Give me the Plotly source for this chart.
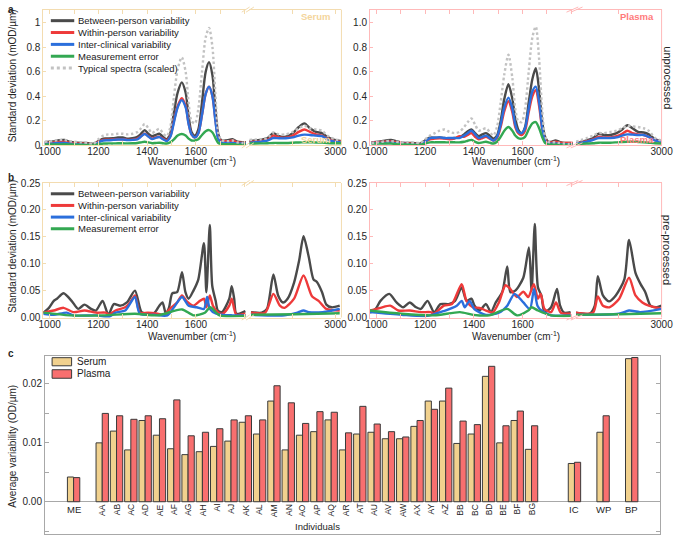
import plotly.graph_objects as go

W, H = 685, 541
FONT = "Liberation Sans, Arial, Helvetica, sans-serif"

# ---------------- colours ----------------
C_BETWEEN = "#4A4A4A"
C_WITHIN = "#EE3A3A"
C_CLINIC = "#2B6FDC"
C_MEAS = "#33A852"
C_TYP = "#C2C2C2"
SER_FRAME = "#F3DCB0"
SER_TEXT = "#F4D59C"
PLA_FRAME = "#FFB9B9"
PLA_TEXT = "#FF7B7B"
C_SER_BAR = "#F1D18E"
C_PLA_BAR = "#F86F6F"
C_C_FRAME = "#A8A8A8"
TXT = "#262626"

# ---------------- data: panel a (unprocessed) ----------------
wn_a = [980, 1010, 1040, 1060, 1080, 1100, 1130, 1160, 1180, 1200, 1220, 1240, 1260, 1280, 1300, 1320,
        1340, 1360, 1375, 1390, 1405, 1420, 1435, 1450, 1465, 1480, 1495, 1510, 1525, 1542, 1558, 1570,
        1582, 1596, 1610, 1625, 1640, 1654, 1668, 1680, 1692, 1705, 1720, 1735, 1750, 1770, 1790, 1805]
wn_a_hi_ser = [2800, 2826, 2842, 2856, 2869, 2885, 2901, 2915, 2928, 2941, 2955, 2969, 2981, 2998, 3014]
wn_a_hi_pla = [2800, 2825, 2840, 2853, 2865, 2880, 2895, 2908, 2920, 2932, 2945, 2958, 2970, 2985, 3000]

a_ser_between = [0.027, 0.032, 0.042, 0.045, 0.030, 0.024, 0.020, 0.018, 0.013, 0.035, 0.055, 0.056, 0.058, 0.064, 0.065, 0.055,
                 0.058, 0.070, 0.095, 0.125, 0.095, 0.075, 0.085, 0.095, 0.070, 0.050, 0.100, 0.270, 0.430, 0.515, 0.430, 0.240,
                 0.110, 0.080, 0.130, 0.350, 0.600, 0.680, 0.570, 0.300, 0.090, 0.040, 0.040, 0.045, 0.050, 0.030, 0.025, 0.025]
a_ser_within = [0.020, 0.022, 0.028, 0.030, 0.022, 0.018, 0.015, 0.012, 0.010, 0.030, 0.045, 0.046, 0.048, 0.050, 0.050, 0.045,
                0.047, 0.055, 0.075, 0.095, 0.075, 0.055, 0.065, 0.070, 0.055, 0.040, 0.075, 0.200, 0.320, 0.385, 0.320, 0.180,
                0.090, 0.065, 0.100, 0.250, 0.420, 0.480, 0.400, 0.210, 0.060, 0.035, 0.035, 0.035, 0.040, 0.025, 0.020, 0.020]
a_ser_clinic = [0.015, 0.016, 0.020, 0.020, 0.015, 0.012, 0.008, 0.006, 0.005, 0.025, 0.040, 0.042, 0.045, 0.048, 0.048, 0.043,
                0.045, 0.050, 0.072, 0.093, 0.072, 0.052, 0.062, 0.068, 0.050, 0.035, 0.070, 0.190, 0.310, 0.370, 0.310, 0.175,
                0.090, 0.065, 0.100, 0.250, 0.420, 0.480, 0.400, 0.200, 0.050, 0.025, 0.020, 0.020, 0.020, 0.015, 0.015, 0.015]
a_ser_meas = [0.008, 0.008, 0.008, 0.009, 0.008, 0.007, 0.006, 0.005, 0.005, 0.010, 0.015, 0.016, 0.016, 0.017, 0.017, 0.016,
              0.017, 0.020, 0.025, 0.030, 0.024, 0.018, 0.020, 0.022, 0.018, 0.015, 0.025, 0.050, 0.080, 0.093, 0.080, 0.055,
              0.040, 0.040, 0.050, 0.085, 0.115, 0.125, 0.105, 0.060, 0.020, 0.012, 0.010, 0.010, 0.010, 0.008, 0.008, 0.008]
a_ser_typical = [0.030, 0.035, 0.045, 0.045, 0.035, 0.030, 0.025, 0.020, 0.012, 0.050, 0.080, 0.090, 0.090, 0.095, 0.095, 0.090,
                 0.095, 0.110, 0.140, 0.175, 0.140, 0.100, 0.120, 0.135, 0.100, 0.075, 0.150, 0.400, 0.620, 0.720, 0.600, 0.350,
                 0.200, 0.180, 0.300, 0.600, 0.880, 0.960, 0.800, 0.420, 0.100, 0.040, 0.035, 0.035, 0.040, 0.025, 0.020, 0.020]
a_ser_between_hi = [0.035, 0.045, 0.060, 0.100, 0.075, 0.072, 0.100, 0.150, 0.180, 0.140, 0.110, 0.100, 0.070, 0.045, 0.035]
a_ser_within_hi = [0.028, 0.035, 0.045, 0.080, 0.065, 0.062, 0.080, 0.110, 0.130, 0.110, 0.090, 0.080, 0.055, 0.035, 0.030]
a_ser_clinic_hi = [0.020, 0.030, 0.040, 0.060, 0.058, 0.058, 0.065, 0.080, 0.088, 0.085, 0.080, 0.075, 0.050, 0.030, 0.025]
a_ser_meas_hi = [0.015, 0.016, 0.018, 0.020, 0.020, 0.020, 0.022, 0.024, 0.025, 0.025, 0.024, 0.023, 0.020, 0.018, 0.018]
a_ser_typical_hi = [0.045, 0.050, 0.060, 0.105, 0.090, 0.090, 0.110, 0.140, 0.160, 0.140, 0.130, 0.120, 0.080, 0.050, 0.040]

a_pla_between = [0.025, 0.030, 0.040, 0.045, 0.035, 0.025, 0.020, 0.018, 0.015, 0.040, 0.065, 0.062, 0.065, 0.060, 0.055, 0.060,
                 0.065, 0.090, 0.115, 0.130, 0.100, 0.075, 0.090, 0.100, 0.080, 0.055, 0.080, 0.200, 0.380, 0.500, 0.380, 0.220,
                 0.130, 0.100, 0.150, 0.350, 0.540, 0.630, 0.450, 0.200, 0.070, 0.030, 0.030, 0.040, 0.030, 0.020, 0.020, 0.020]
a_pla_within = [0.025, 0.027, 0.030, 0.032, 0.027, 0.020, 0.015, 0.012, 0.010, 0.030, 0.050, 0.055, 0.058, 0.055, 0.050, 0.055,
                0.075, 0.070, 0.085, 0.100, 0.070, 0.050, 0.060, 0.070, 0.055, 0.040, 0.060, 0.150, 0.280, 0.360, 0.270, 0.150,
                0.100, 0.085, 0.120, 0.270, 0.400, 0.450, 0.320, 0.140, 0.050, 0.025, 0.025, 0.030, 0.025, 0.020, 0.020, 0.020]
a_pla_clinic = [0.020, 0.020, 0.020, 0.022, 0.018, 0.015, 0.010, 0.007, 0.005, 0.030, 0.060, 0.062, 0.065, 0.060, 0.060, 0.060,
                0.060, 0.080, 0.100, 0.120, 0.090, 0.060, 0.070, 0.080, 0.060, 0.040, 0.070, 0.170, 0.310, 0.390, 0.300, 0.170,
                0.110, 0.100, 0.140, 0.300, 0.440, 0.480, 0.350, 0.150, 0.040, 0.015, 0.015, 0.015, 0.012, 0.010, 0.010, 0.010]
a_pla_meas = [0.015, 0.015, 0.015, 0.015, 0.012, 0.010, 0.008, 0.006, 0.005, 0.015, 0.025, 0.025, 0.026, 0.025, 0.025, 0.025,
              0.025, 0.030, 0.038, 0.045, 0.030, 0.020, 0.025, 0.030, 0.022, 0.015, 0.030, 0.070, 0.120, 0.150, 0.120, 0.080,
              0.060, 0.055, 0.070, 0.130, 0.180, 0.190, 0.140, 0.070, 0.020, 0.008, 0.008, 0.008, 0.006, 0.005, 0.005, 0.005]
a_pla_typical = [0.020, 0.025, 0.035, 0.035, 0.030, 0.025, 0.025, 0.022, 0.020, 0.050, 0.080, 0.100, 0.120, 0.130, 0.110, 0.100,
                 0.110, 0.150, 0.190, 0.220, 0.170, 0.120, 0.130, 0.140, 0.110, 0.080, 0.150, 0.350, 0.580, 0.740, 0.550, 0.300,
                 0.200, 0.190, 0.300, 0.600, 0.880, 0.970, 0.700, 0.300, 0.080, 0.030, 0.025, 0.025, 0.020, 0.015, 0.012, 0.010]
a_pla_between_hi = [0.020, 0.040, 0.060, 0.095, 0.085, 0.085, 0.100, 0.130, 0.165, 0.140, 0.110, 0.105, 0.090, 0.050, 0.035]
a_pla_within_hi = [0.020, 0.035, 0.050, 0.070, 0.065, 0.065, 0.075, 0.095, 0.120, 0.100, 0.090, 0.085, 0.070, 0.040, 0.030]
a_pla_clinic_hi = [0.015, 0.030, 0.045, 0.060, 0.060, 0.060, 0.065, 0.080, 0.090, 0.088, 0.085, 0.085, 0.070, 0.040, 0.030]
a_pla_meas_hi = [0.010, 0.015, 0.018, 0.022, 0.022, 0.022, 0.025, 0.028, 0.030, 0.030, 0.028, 0.026, 0.022, 0.017, 0.015]
a_pla_typical_hi = [0.030, 0.060, 0.080, 0.100, 0.100, 0.110, 0.120, 0.140, 0.160, 0.155, 0.150, 0.140, 0.120, 0.060, 0.040]

# ---------------- data: panel b (pre-processed) ----------------
b_ser_between_wn = [974, 997, 1017, 1030, 1057, 1090, 1117, 1143, 1170, 1190, 1217, 1241, 1263, 1290, 1317, 1350, 1377, 1403,
                    1430, 1450, 1463, 1477, 1490, 1503, 1523, 1543, 1557, 1570, 1590, 1610, 1633, 1643, 1657, 1667, 1681,
                    1690, 1707, 1737, 1747, 1757, 1766, 1803,
                    2804, 2829, 2841, 2856, 2867, 2878, 2889, 2904, 2916, 2926, 2938, 2949, 2957, 2969, 2979, 2991, 3010]
b_ser_between_sd = [0.009, 0.018, 0.031, 0.035, 0.045, 0.031, 0.016, 0.024, 0.016, 0.013, 0.031, 0.005, 0.025, 0.022, 0.028,
                    0.050, 0.010, 0.007, 0.009, 0.022, 0.028, 0.007, 0.019, 0.045, 0.047, 0.084, 0.047, 0.035, 0.050, 0.071,
                    0.138, 0.047, 0.172, 0.059, 0.031, 0.013, 0.010, 0.035, 0.058, 0.035, 0.007, 0.012,
                    0.010, 0.009, 0.016, 0.080, 0.041, 0.028, 0.035, 0.065, 0.107, 0.151, 0.113, 0.071, 0.066, 0.047, 0.024,
                    0.019, 0.022]
b_ser_within_wn = [974, 1017, 1057, 1097, 1143, 1190, 1230, 1243, 1270, 1310, 1330, 1350, 1370, 1403, 1443, 1470, 1497, 1523,
                   1543, 1563, 1590, 1617, 1633, 1643, 1657, 1670, 1690, 1710, 1737, 1747, 1757, 1766, 1803,
                   2804, 2837, 2856, 2871, 2882, 2904, 2926, 2946, 2961, 2979, 3010]
b_ser_within_sd = [0.009, 0.013, 0.018, 0.010, 0.013, 0.009, 0.009, 0.005, 0.013, 0.019, 0.028, 0.041, 0.009, 0.009, 0.007,
                   0.005, 0.018, 0.028, 0.041, 0.030, 0.022, 0.031, 0.035, 0.019, 0.041, 0.022, 0.010, 0.007, 0.022, 0.035,
                   0.016, 0.005, 0.007,
                   0.009, 0.009, 0.044, 0.022, 0.018, 0.035, 0.078, 0.039, 0.031, 0.016, 0.013]
b_ser_clinic_wn = [974, 1017, 1070, 1097, 1190, 1243, 1270, 1310, 1350, 1370, 1430, 1483, 1510, 1543, 1570, 1603, 1633, 1646,
                   1657, 1683, 1750, 1803,
                   2804, 2882, 2912, 2926, 2938, 2971, 2992, 3010]
b_ser_clinic_sd = [0.007, 0.005, 0.009, 0.004, 0.004, 0.001, 0.009, 0.013, 0.038, 0.007, 0.005, 0.004, 0.019, 0.038, 0.022,
                   0.019, 0.016, 0.038, 0.016, 0.007, 0.004, 0.004,
                   0.005, 0.004, 0.009, 0.013, 0.010, 0.010, 0.013, 0.016]
b_ser_meas_wn = [974, 1083, 1217, 1350, 1443, 1543, 1590, 1637, 1659, 1697, 1803, 2804, 2906, 3010]
b_ser_meas_sd = [0.009, 0.004, 0.004, 0.007, 0.004, 0.015, 0.004, 0.009, 0.019, 0.004, 0.003, 0.005, 0.006, 0.008]

b_pla_between_wn = [974, 997, 1017, 1053, 1083, 1110, 1137, 1163, 1183, 1210, 1237, 1263, 1297, 1323, 1350, 1370, 1390, 1403,
                    1423, 1450, 1470, 1490, 1517, 1537, 1550, 1570, 1603, 1626, 1637, 1650, 1663, 1677, 1690, 1717, 1741,
                    1754, 1770, 1797,
                    2800, 2832, 2844, 2851, 2863, 2877, 2893, 2913, 2924, 2939, 2951, 2962, 2974, 2989, 3000]
b_pla_between_sd = [0.009, 0.016, 0.031, 0.044, 0.028, 0.019, 0.028, 0.019, 0.016, 0.031, 0.010, 0.025, 0.025, 0.031, 0.056,
                    0.031, 0.035, 0.022, 0.013, 0.025, 0.010, 0.028, 0.048, 0.095, 0.047, 0.050, 0.074, 0.130, 0.050, 0.174,
                    0.056, 0.041, 0.010, 0.019, 0.053, 0.022, 0.009, 0.010,
                    0.009, 0.007, 0.022, 0.077, 0.041, 0.030, 0.041, 0.071, 0.144, 0.083, 0.062, 0.047, 0.022, 0.019, 0.022]
b_pla_within_wn = [974, 1017, 1057, 1090, 1137, 1183, 1223, 1237, 1277, 1310, 1350, 1370, 1397, 1423, 1450, 1477, 1503, 1530,
                   1550, 1577, 1603, 1623, 1646, 1663, 1674, 1690, 1717, 1737, 1757, 1797,
                   2800, 2840, 2851, 2863, 2878, 2901, 2924, 2939, 2955, 2970, 3000]
b_pla_within_sd = [0.013, 0.018, 0.022, 0.013, 0.013, 0.010, 0.010, 0.007, 0.022, 0.025, 0.062, 0.031, 0.019, 0.018, 0.013,
                   0.009, 0.028, 0.060, 0.053, 0.038, 0.048, 0.038, 0.062, 0.035, 0.044, 0.016, 0.010, 0.028, 0.009, 0.007,
                   0.009, 0.009, 0.039, 0.022, 0.019, 0.035, 0.074, 0.041, 0.028, 0.022, 0.016]
b_pla_clinic_wn = [974, 1103, 1210, 1277, 1330, 1350, 1363, 1383, 1403, 1450, 1503, 1537, 1567, 1603, 1630, 1647, 1661, 1677,
                   1717, 1797,
                   2800, 2900, 2924, 2950, 3000]
b_pla_clinic_sd = [0.010, 0.005, 0.003, 0.012, 0.022, 0.031, 0.019, 0.031, 0.015, 0.005, 0.009, 0.022, 0.044, 0.028, 0.016,
                   0.053, 0.022, 0.013, 0.004, 0.004,
                   0.005, 0.007, 0.013, 0.010, 0.016]
b_pla_meas_wn = [974, 1103, 1237, 1343, 1397, 1463, 1537, 1577, 1623, 1637, 1663, 1717, 1797, 2800, 2900, 3000]
b_pla_meas_sd = [0.013, 0.007, 0.004, 0.010, 0.005, 0.004, 0.016, 0.004, 0.013, 0.019, 0.013, 0.004, 0.003, 0.005, 0.006, 0.008]

# ---------------- data: panel c ----------------
individuals = ["AA", "AB", "AC", "AD", "AE", "AF", "AG", "AH", "AI", "AJ", "AK", "AL", "AM", "AN", "AO", "AP",
               "AQ", "AR", "AT", "AU", "AV", "AW", "AX", "AY", "AZ", "BB", "BC", "BD", "BE", "BF", "BG"]
serum_ind = [0.0100, 0.0120, 0.0088, 0.0138, 0.0113, 0.0090, 0.0080, 0.0085, 0.0094, 0.0103, 0.0135, 0.0115, 0.0171,
             0.0088, 0.0113, 0.0119, 0.0139, 0.0088, 0.0115, 0.0118, 0.0107, 0.0107, 0.0128, 0.0171, 0.0171, 0.0099,
             0.0115, 0.0213, 0.0100, 0.0138, 0.0089]
plasma_ind = [0.0150, 0.0146, 0.0140, 0.0146, 0.0141, 0.0173, 0.0112, 0.0118, 0.0124, 0.0139, 0.0146, 0.0139, 0.0197,
              0.0168, 0.0133, 0.0153, 0.0152, 0.0117, 0.0162, 0.0132, 0.0119, 0.0110, 0.0138, 0.0157, 0.0193, 0.0137,
              0.0131, 0.0230, 0.0129, 0.0154, 0.0129]
me_label, me_serum, me_plasma = "ME", 0.0042, 0.0041
summary_labels = ["IC", "WP", "BP"]
summary_serum = [0.0065, 0.0118, 0.0243]
summary_plasma = [0.0067, 0.0146, 0.0245]

curve_names = ["Between-person variability", "Within-person variability", "Inter-clinical variability",
               "Measurement error", "Typical spectra (scaled)"]

# ---------------- helpers ----------------
def dx(a, b):
    return [a / W, b / W]


def dy(top, bottom):
    return [1 - bottom / H, 1 - top / H]


def px(x):
    return x / W


def py(y):
    return 1 - y / H


fig = go.Figure()


def add_line(wn, sd, color, xa, ya, dash="solid", width=2.4, smooth=0.8):
    fig.add_trace(go.Scatter(x=wn, y=sd, mode="lines", xaxis=xa, yaxis=ya, showlegend=False, hoverinfo="skip",
                             line=dict(color=color, width=width, dash=dash, shape="spline", smoothing=smooth)))


def add_split(wn, sd, color, xlo, xhi, ya, smooth=0.7):
    lo = [(w, s) for w, s in zip(wn, sd) if w < 2000]
    hi = [(w, s) for w, s in zip(wn, sd) if w >= 2000]
    add_line([p[0] for p in lo], [p[1] for p in lo], color, xlo, ya, smooth=smooth)
    add_line([p[0] for p in hi], [p[1] for p in hi], color, xhi, ya, smooth=smooth)


DOT = "2.5px,2.5px"
for lo, hi, col, dash in [(a_ser_between, a_ser_between_hi, C_BETWEEN, "solid"),
                          (a_ser_within, a_ser_within_hi, C_WITHIN, "solid"),
                          (a_ser_clinic, a_ser_clinic_hi, C_CLINIC, "solid"),
                          (a_ser_meas, a_ser_meas_hi, C_MEAS, "solid"),
                          (a_ser_typical, a_ser_typical_hi, C_TYP, DOT)]:
    add_line(wn_a, lo, col, "x", "y", dash)
    add_line(wn_a_hi_ser, hi, col, "x2", "y", dash)
for lo, hi, col, dash in [(a_pla_between, a_pla_between_hi, C_BETWEEN, "solid"),
                          (a_pla_within, a_pla_within_hi, C_WITHIN, "solid"),
                          (a_pla_clinic, a_pla_clinic_hi, C_CLINIC, "solid"),
                          (a_pla_meas, a_pla_meas_hi, C_MEAS, "solid"),
                          (a_pla_typical, a_pla_typical_hi, C_TYP, DOT)]:
    add_line(wn_a, lo, col, "x3", "y2", dash)
    add_line(wn_a_hi_pla, hi, col, "x4", "y2", dash)
for wn, sd, col in [(b_ser_between_wn, b_ser_between_sd, C_BETWEEN), (b_ser_within_wn, b_ser_within_sd, C_WITHIN),
                    (b_ser_clinic_wn, b_ser_clinic_sd, C_CLINIC), (b_ser_meas_wn, b_ser_meas_sd, C_MEAS)]:
    add_split(wn, sd, col, "x5", "x6", "y3")
for wn, sd, col in [(b_pla_between_wn, b_pla_between_sd, C_BETWEEN), (b_pla_within_wn, b_pla_within_sd, C_WITHIN),
                    (b_pla_clinic_wn, b_pla_clinic_sd, C_CLINIC), (b_pla_meas_wn, b_pla_meas_sd, C_MEAS)]:
    add_split(wn, sd, col, "x7", "x8", "y4")

n_ind = len(individuals)
cats = [me_label] + individuals + summary_labels
pos = [0] + [2 + i for i in range(n_ind)] + [2 + n_ind + 2 + 2 * i for i in range(len(summary_labels))]
ser_vals = [me_serum] + serum_ind + summary_serum
pla_vals = [me_plasma] + plasma_ind + summary_plasma
fig.add_trace(go.Bar(x=pos, y=ser_vals, name="Serum", xaxis="x9", yaxis="y5", showlegend=False,
                     marker=dict(color=C_SER_BAR, line=dict(color="#3A3A3A", width=1)), hoverinfo="skip"))
fig.add_trace(go.Bar(x=pos, y=pla_vals, name="Plasma", xaxis="x9", yaxis="y5", showlegend=False,
                     marker=dict(color=C_PLA_BAR, line=dict(color="#3A3A3A", width=1)), hoverinfo="skip"))

# ---------------- axes ----------------
TF = dict(size=10, color=TXT, family=FONT)
lo_ticks = [1000, 1200, 1400, 1600]
lo_minor = [1100, 1300, 1500, 1700, 1800]
hi_ticks = [3000]
hi_minor = [2900]


def xax(domain, rng, anchor, frame, tv, mv):
    return dict(domain=domain, range=rng, anchor=anchor, showline=True, linecolor=frame, linewidth=1,
                mirror="ticks", ticks="inside", ticklen=4, tickcolor=frame, tickvals=tv,
                minor=dict(tickmode="array", tickvals=mv, ticks="inside", ticklen=4, tickcolor=frame),
                tickfont=TF, showgrid=False, zeroline=False, ticklabelstandoff=-3)


def yax(domain, rng, anchor, frame, tv, tt):
    return dict(domain=domain, range=rng, anchor=anchor, showline=True, linecolor=frame, linewidth=1,
                ticks="inside", ticklen=3, tickcolor=frame, tickvals=tv, ticktext=tt, tickfont=TF,
                showgrid=False, zeroline=False)


LO_RNG = [974, 1807]
HI_RNG_SER = [2800, 3014]
HI_RNG_PLA = [2800, 3000]
A_DOM = dy(4.7, 143.3)
B_DOM = dy(181.7, 319)
a_tv = [0, 0.2, 0.4, 0.6, 0.8, 1.0]
b_tv = [0, 0.05, 0.10, 0.15, 0.20, 0.25]

fig.update_layout(
    xaxis=xax(dx(39.3, 247.5), LO_RNG, "y", SER_FRAME, lo_ticks, lo_minor),
    xaxis2=xax(dx(250.5, 345), HI_RNG_SER, "y", SER_FRAME, hi_ticks, hi_minor),
    yaxis=yax(A_DOM, [0, 1.109], "x", SER_FRAME, a_tv, ["0", "0.2", "0.4", "0.6", "0.8", "1"]),
    xaxis3=xax(dx(374.3, 582.5), LO_RNG, "y2", PLA_FRAME, lo_ticks, lo_minor),
    xaxis4=xax(dx(585.5, 673.3), HI_RNG_PLA, "y2", PLA_FRAME, hi_ticks, hi_minor),
    yaxis2=yax(A_DOM, [0, 1.109], "x3", PLA_FRAME, a_tv, ["0.0", "0.2", "0.4", "0.6", "0.8", "1.0"]),
    xaxis5=xax(dx(39.3, 247.5), LO_RNG, "y3", SER_FRAME, lo_ticks, lo_minor),
    xaxis6=xax(dx(250.5, 345), HI_RNG_SER, "y3", SER_FRAME, hi_ticks, hi_minor),
    yaxis3=yax(B_DOM, [0, 0.25], "x5", SER_FRAME, b_tv, ["0.00", "0.05", "0.10", "0.15", "0.20", "0.25"]),
    xaxis7=xax(dx(374.3, 582.5), LO_RNG, "y4", PLA_FRAME, lo_ticks, lo_minor),
    xaxis8=xax(dx(585.5, 673.3), HI_RNG_PLA, "y4", PLA_FRAME, hi_ticks, hi_minor),
    yaxis4=yax(B_DOM, [0, 0.25], "x7", PLA_FRAME, b_tv, ["0.00", "0.05", "0.10", "0.15", "0.20", "0.25"]),
    xaxis9=dict(domain=dx(41, 672), range=[-2, 41], anchor="y5", showline=True, linecolor=C_C_FRAME, linewidth=1,
                mirror=True, ticks="", showticklabels=False, showgrid=False, zeroline=False),
    yaxis5=dict(domain=dy(358, 539.5), range=[-0.0054, 0.0248], anchor="x9", showline=True, linecolor=C_C_FRAME,
                linewidth=1, mirror="ticks", ticks="inside", ticklen=4, tickcolor=C_C_FRAME,
                tickvals=[0, 0.01, 0.02], ticktext=["0.00", "0.01", "0.02"],
                minor=dict(tickmode="array", tickvals=[-0.005, 0.005, 0.015], ticks="inside", ticklen=4,
                           tickcolor=C_C_FRAME),
                tickfont=TF, showgrid=False, zeroline=True, zerolinecolor=C_C_FRAME, zerolinewidth=1),
    barmode="group", bargap=0.135, bargroupgap=0,
    width=W, height=H, margin=dict(l=0, r=0, t=0, b=0),
    paper_bgcolor="white", plot_bgcolor="white",
    font=dict(family=FONT, size=10, color=TXT), showlegend=False,
)

# ---------------- frame pieces, break marks, legends ----------------
shapes = []
for xa, ya, col in [("x2", "y", SER_FRAME), ("x4", "y2", PLA_FRAME), ("x6", "y3", SER_FRAME), ("x8", "y4", PLA_FRAME)]:
    shapes.append(dict(type="line", xref=xa + " domain", yref=ya + " domain", x0=1, x1=1, y0=0, y1=1,
                       line=dict(color=col, width=1)))

for xc, hw, col in [(249, 4, SER_FRAME), (584, 6, PLA_FRAME)]:
    for yy in (4.7, 143.3, 181.7, 319):
        for off in (-2.2, 2.2):
            shapes.append(dict(type="line", xref="paper", yref="paper",
                               x0=px(xc + off - hw), y0=py(yy + 2.6), x1=px(xc + off + hw), y1=py(yy - 2.6),
                               line=dict(color=col, width=1)))

annotations = []
leg_cols = [C_BETWEEN, C_WITHIN, C_CLINIC, C_MEAS, C_TYP]
for top, step, n in [(16.0, 12.1, 5), (192.7, 11.9, 4)]:
    for i in range(n):
        yy = top + i * step
        shapes.append(dict(type="line", xref="paper", yref="paper", x0=px(47), x1=px(71), y0=py(yy), y1=py(yy),
                           line=dict(color=leg_cols[i], width=3, dash="dot" if i == 4 else "solid")))
        annotations.append(dict(text=curve_names[i], x=px(73), y=py(yy), xref="paper", yref="paper",
                                xanchor="left", yanchor="middle", showarrow=False,
                                font=dict(size=9.5, color="#1A1A1A", family=FONT)))

for lab, col, y0, y1 in [("Serum", C_SER_BAR, 360, 368.3), ("Plasma", C_PLA_BAR, 372.3, 381)]:
    shapes.append(dict(type="rect", xref="paper", yref="paper", x0=px(48.3), x1=px(68.3), y0=py(y1), y1=py(y0),
                       fillcolor=col, line=dict(color="#3A3A3A", width=1)))
    annotations.append(dict(text=lab, x=px(72), y=py((y0 + y1) / 2), xref="paper", yref="paper", xanchor="left",
                            yanchor="middle", showarrow=False, font=dict(size=10, color="#1A1A1A", family=FONT)))

for txt, col, xr in [("Serum", SER_TEXT, 336), ("Plasma", PLA_TEXT, 668)]:
    for yy in (11.5, 137):
        annotations.append(dict(text="<b>%s</b>" % txt, x=px(xr), y=py(yy), xref="paper", yref="paper",
                                xanchor="right", yanchor="middle", showarrow=False,
                                font=dict(size=9.5, color=col, family=FONT)))


def ann(text, x, y, size=10, angle=0, xanchor="center", yanchor="middle", color=TXT):
    annotations.append(dict(text=text, x=px(x), y=py(y), xref="paper", yref="paper", xanchor=xanchor,
                            yanchor=yanchor, textangle=angle, showarrow=False,
                            font=dict(size=size, color=color, family=FONT)))


ann("Standard deviation (mOD/µm)", 8, 72, angle=-90)
ann("Standard deviation (mOD/µm)", 8, 246, angle=-90)
ann("Average variability (OD/µm)", 8, 450, angle=-90)
for xc in (192, 523.5):
    ann("Wavenumber (cm<sup>-1</sup>)", xc, 159)
    ann("Wavenumber (cm<sup>-1</sup>)", xc, 337.5)
ann("unprocessed", 679, 74, size=11, angle=90)
ann("pre-processed", 679, 250, size=11, angle=90)
ann("<b>a</b>", 1, 5, size=10, xanchor="left")
ann("<b>b</b>", 1, 176, size=10, xanchor="left")
ann("<b>c</b>", 1, 355.5, size=10, xanchor="left")
ann("Individuals", 320.5, 532, size=9.5)

for c, p in zip(cats, pos):
    if c in individuals:
        annotations.append(dict(text=c, x=p, y=0.0, xref="x9", yref="y5", xanchor="center", yanchor="top",
                                textangle=-90, showarrow=False, font=dict(size=8.5, color=TXT, family=FONT)))
    else:
        annotations.append(dict(text=c, x=p, y=-0.00133, xref="x9", yref="y5", xanchor="center", yanchor="middle",
                                showarrow=False, font=dict(size=9.5, color=TXT, family=FONT)))

fig.update_layout(shapes=shapes, annotations=annotations)
fig.write_html("out.html", config={"displayModeBar": False},
               post_script="document.body.style.margin='0';document.body.style.padding='0';")
